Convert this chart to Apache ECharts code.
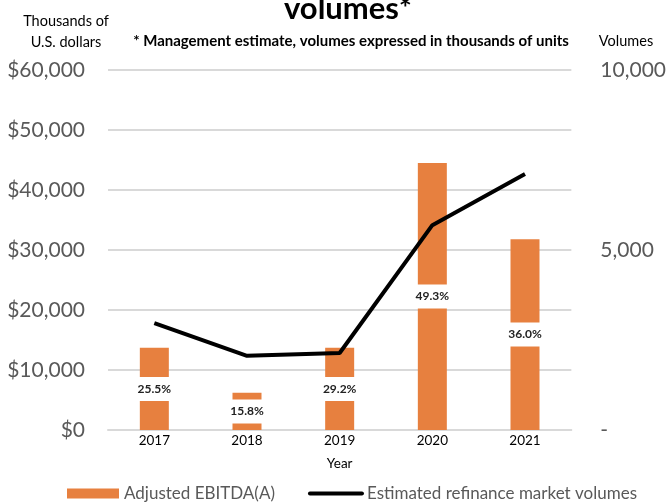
<!DOCTYPE html>
<html>
<head>
<meta charset="utf-8">
<script src="https://cdn.jsdelivr.net/npm/echarts@6/dist/echarts.min.js"></script>
<style>
  html, body { margin: 0; padding: 0; background: #fff; }
  #chart { width: 669px; height: 504px; }
</style>
</head>
<body>
<div id="chart"></div>
<script>
var years = ["2017", "2018", "2019", "2020", "2021"];
var ebitda = [13700, 6200, 13700, 44500, 31800];
var margins = ["25.5%", "15.8%", "29.2%", "49.3%", "36.0%"];
var volumes = [2970, 2060, 2140, 5690, 7110];

var FONT = "Lato";
var chart = echarts.init(document.getElementById("chart"));

function fmt(v) {
  return v.toString().replace(/\B(?=(\d{3})+(?!\d))/g, ",");
}

chart.setOption({
  animation: false,
  textStyle: { fontFamily: FONT },
  title: [
    {
      text: "volumes*",
      left: 343,
      textAlign: "center",
      top: -12,
      textStyle: { fontFamily: FONT, fontSize: 31, fontWeight: "bold", color: "#000" }
    },
    {
      text: "* Management estimate, volumes expressed in thousands of units",
      left: 346,
      textAlign: "center",
      top: 29,
      textStyle: { fontFamily: FONT, fontSize: 15, fontWeight: "bold", color: "#000" }
    },
    {
      text: "Thousands of\nU.S. dollars",
      left: 61,
      textAlign: "center",
      top: 6,
      textStyle: { fontFamily: FONT, fontSize: 14.5, fontWeight: "normal", color: "#000", lineHeight: 21 }
    },
    {
      text: "Volumes",
      left: 621,
      textAlign: "center",
      top: 29,
      textStyle: { fontFamily: FONT, fontSize: 14.5, fontWeight: "normal", color: "#000" }
    }
  ],
  grid: { left: 108, right: 97, top: 70, bottom: 74 },
  legend: {
    bottom: -3,
    left: 62,
    itemGap: 33,
    itemWidth: 52,
    itemHeight: 10,
    textStyle: { fontFamily: FONT, fontSize: 17, color: "#595959" },
    data: [
      { name: "Adjusted EBITDA(A)", icon: "rect" },
      {
        name: "Estimated refinance market volumes",
        itemStyle: { opacity: 0 },
        lineStyle: { color: "#000", width: 4, cap: "round" }
      }
    ]
  },
  xAxis: {
    type: "category",
    data: years,
    name: "Year",
    nameLocation: "middle",
    nameGap: 27,
    nameTextStyle: { fontFamily: FONT, fontSize: 13.5, color: "#000" },
    axisLine: { lineStyle: { color: "#D9D9D9", width: 2 } },
    axisTick: { show: false },
    axisLabel: { fontFamily: FONT, fontSize: 13.5, color: "#000", margin: 4 }
  },
  yAxis: [
    {
      type: "value",
      min: 0,
      max: 60000,
      interval: 10000,
      axisLine: { show: false },
      axisTick: { show: false },
      splitLine: { lineStyle: { color: "#D9D9D9", width: 2 } },
      axisLabel: {
        fontFamily: FONT,
        fontSize: 21,
        color: "#595959",
        margin: 23,
        formatter: function (v) { return "$" + fmt(v); }
      }
    },
    {
      type: "value",
      min: 0,
      max: 10000,
      interval: 5000,
      axisLine: { show: false },
      axisTick: { show: false },
      splitLine: { show: false },
      axisLabel: {
        fontFamily: FONT,
        fontSize: 21,
        color: "#595959",
        margin: 29,
        formatter: function (v) { return v === 0 ? "-" : fmt(v); }
      }
    }
  ],
  series: [
    {
      name: "Adjusted EBITDA(A)",
      type: "bar",
      yAxisIndex: 0,
      data: ebitda,
      barWidth: 29,
      itemStyle: { color: "#E7803F" },
      label: {
        show: true,
        position: "inside",
        formatter: function (p) { return margins[p.dataIndex]; },
        fontFamily: FONT,
        fontSize: 12,
        fontWeight: "bold",
        color: "#222",
        backgroundColor: "#fff",
        padding: [6, 3]
      }
    },
    {
      name: "Estimated refinance market volumes",
      type: "line",
      yAxisIndex: 1,
      data: volumes,
      symbol: "none",
      lineStyle: { color: "#000", width: 4 },
      itemStyle: { color: "#000" },
      z: 5
    }
  ]
});
</script>
</body>
</html>
